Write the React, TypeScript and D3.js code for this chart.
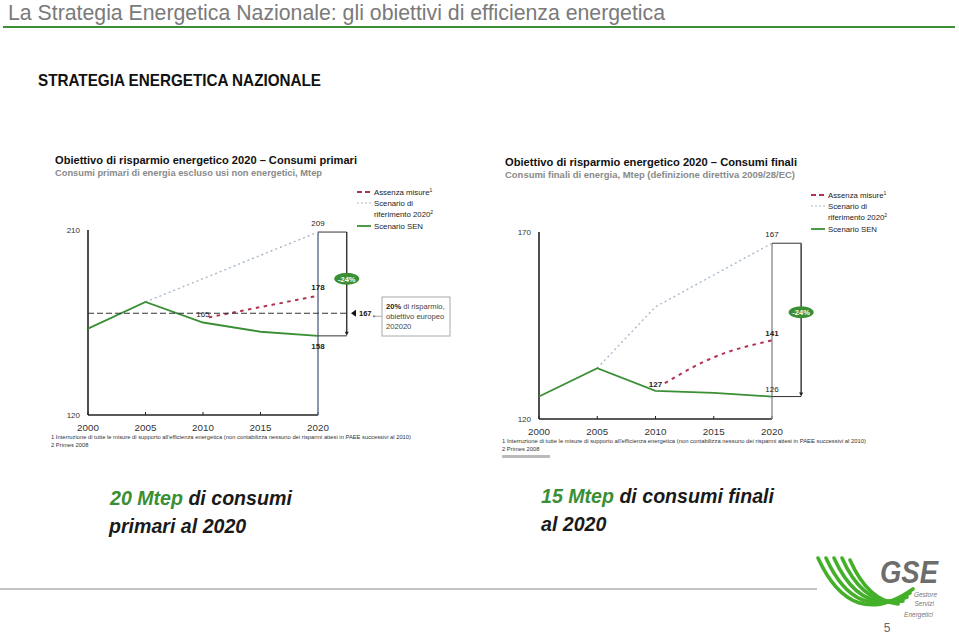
import React from "react";
import * as d3 from "d3";

// ---------- DATA ----------
const years = [2000, 2005, 2010, 2015, 2020];
const xTickLabels = ["2000", "2005", "2010", "2015", "2020"];

// Primary consumption (Mtep)
const primarySEN = [162, 175, 165, 160.5, 158.5];
const primaryRefYears = [2005, 2020];
const primaryRef = [175, 209];
const primaryNoMeasYears = [2010.5, 2015, 2020];
const primaryNoMeas = [167.5, 172.5, 178];
const primaryTargetLevel = 169.5; // drawn position of the 167 target line
const primaryYDomain = [120, 210];

// Final consumption (Mtep)
const finalSEN = [126, 133.6, 127.5, 127, 126];
const finalRefYears = [2005, 2010, 2015, 2020];
const finalRef = [133.6, 150, 158.5, 167];
const finalNoMeasYears = [2010.8, 2015, 2020];
const finalNoMeas = [129.6, 136.5, 141];
const finalYDomain = [120, 170];

const legendLabels = ["Assenza misure", "Scenario di", "riferimento 2020", "Scenario SEN"];
const footnote1 =
  "1 Interruzione di tutte le misure di supporto all'efficienza energetica (non contabilizza nessuno dei risparmi attesi in PAEE successivi al 2010)";
const footnote2 = "2 Primes 2008";

const GREEN = "#3a8f34";
const RED = "#b2334f";
const GREY_DOT = "#a9b9cc";
const FONT = "'Liberation Sans', Arial, sans-serif";

type PanelProps = {
  x0: number; x1: number; yTop: number; yBot: number;
  yDomain: number[];
  sen: number[]; refYears: number[]; ref: number[];
  nmYears: number[]; nm: number[];
  title: string; subtitle: string; titleX: number; titleY: number;
  titleW: number; subW: number;
  legX: number; legY: number;
  bracketColor: string;
  labels: { text: string; year: number; value: number; dx: number; dy: number; bold: boolean }[];
  footY: number; footW: number;
  extraFoot?: boolean;
};

function Panel(p: PanelProps) {
  const x = d3.scaleLinear().domain([2000, 2020]).range([p.x0, p.x1]);
  const y = d3.scaleLinear().domain(p.yDomain).range([p.yBot, p.yTop]);
  const line = d3.line<[number, number]>().x((d) => x(d[0])).y((d) => y(d[1]));
  const curve = d3
    .line<[number, number]>()
    .x((d) => x(d[0]))
    .y((d) => y(d[1]))
    .curve(d3.curveMonotoneX);
  const senPts = years.map((yr, i) => [yr, p.sen[i]] as [number, number]);
  const refPts = p.refYears.map((yr, i) => [yr, p.ref[i]] as [number, number]);
  const nmPts = p.nmYears.map((yr, i) => [yr, p.nm[i]] as [number, number]);
  const topVal = p.ref[p.ref.length - 1];
  const botVal = p.sen[p.sen.length - 1];
  const bx = x(2020);
  const bx2 = bx + (x(2005) - x(2000)) / 2;
  const yt = y(topVal);
  const yb = y(botVal);
  const ovalY = y((topVal + botVal) / 2 + (topVal - botVal) * 0.05);
  return (
    <g fontFamily={FONT}>
      <text x={p.titleX} y={p.titleY} fontSize={10.8} fontWeight="bold" fill="#111" textLength={p.titleW} lengthAdjust="spacingAndGlyphs">{p.title}</text>
      <text x={p.titleX} y={p.titleY + 12} fontSize={9.2} fontWeight="bold" fill="#8a8a8a" textLength={p.subW} lengthAdjust="spacingAndGlyphs">{p.subtitle}</text>
      {/* legend */}
      <g fontSize={7.8} fill="#222">
        <line x1={p.legX} x2={p.legX + 14} y1={p.legY} y2={p.legY} stroke={RED} strokeWidth={1.8} strokeDasharray="5,3" />
        <text x={p.legX + 17} y={p.legY + 2.5}>{legendLabels[0]}<tspan dy={-3} fontSize={5}>1</tspan></text>
        <line x1={p.legX} x2={p.legX + 14} y1={p.legY + 11} y2={p.legY + 11} stroke={GREY_DOT} strokeWidth={1.2} strokeDasharray="2,2" />
        <text x={p.legX + 17} y={p.legY + 13.5}>{legendLabels[1]}</text>
        <text x={p.legX + 17} y={p.legY + 24.5}>{legendLabels[2]}<tspan dy={-3} fontSize={5}>2</tspan></text>
        <line x1={p.legX} x2={p.legX + 14} y1={p.legY + 34} y2={p.legY + 34} stroke={GREEN} strokeWidth={1.8} />
        <text x={p.legX + 17} y={p.legY + 36.5}>{legendLabels[3]}</text>
      </g>
      {/* axes */}
      <line x1={p.x0} x2={p.x0} y1={p.yTop} y2={p.yBot} stroke="#222" strokeWidth={1.6} />
      <line x1={p.x0} x2={p.x1} y1={p.yBot} y2={p.yBot} stroke="#222" strokeWidth={1.4} />
      {years.map((yr) => (
        <line key={yr} x1={x(yr)} x2={x(yr)} y1={p.yBot} y2={p.yBot - 3} stroke="#222" strokeWidth={1} />
      ))}
      <text x={p.x0 - 8} y={y(p.yDomain[1]) + 3} fontSize={8} fill="#333" textAnchor="end">{String(p.yDomain[1])}</text>
      <text x={p.x0 - 8} y={p.yBot + 3} fontSize={8} fill="#333" textAnchor="end">{String(p.yDomain[0])}</text>
      {years.map((yr, i) => (
        <text key={yr} x={x(yr)} y={p.yBot + 16} fontSize={9.8} fill="#333" textAnchor="middle">{xTickLabels[i]}</text>
      ))}
      {/* bracket */}
      <line x1={bx} x2={bx} y1={yt} y2={p.yBot} stroke={p.bracketColor} strokeWidth={1.4} />
      <line x1={bx} x2={bx2} y1={yt} y2={yt} stroke="#333" strokeWidth={1} />
      <line x1={bx} x2={bx2} y1={yb} y2={yb} stroke="#333" strokeWidth={1} />
      <line x1={bx2} x2={bx2} y1={yt} y2={yb - 3} stroke="#222" strokeWidth={1.3} />
      <path d={`M${bx2 - 2},${yb - 4} L${bx2 + 2},${yb - 4} L${bx2},${yb} Z`} fill="#222" />
      <ellipse cx={bx2} cy={ovalY} rx={12.5} ry={6} fill={GREEN} />
      <text x={bx2} y={ovalY + 2.8} fontSize={7.5} fontWeight="bold" fill="#fff" textAnchor="middle">-24%</text>
      {/* series */}
      <path d={line(refPts) || ""} fill="none" stroke={GREY_DOT} strokeWidth={1.4} strokeDasharray="2,3" />
      <path d={curve(nmPts) || ""} fill="none" stroke={RED} strokeWidth={2} strokeDasharray="3.5,4.5" />
      <path d={line(senPts) || ""} fill="none" stroke={GREEN} strokeWidth={1.8} />
      {p.labels.map((l, i) => (
        <text key={i} x={x(l.year) + l.dx} y={y(l.value) + l.dy} fontSize={8} fontWeight={l.bold ? "bold" : "normal"} fill="#222" textAnchor="middle">{l.text}</text>
      ))}
      <text x={p.x0 - 37} y={p.footY} fontSize={5.8} fill="#333" textLength={p.footW} lengthAdjust="spacingAndGlyphs">{footnote1}</text>
      <text x={p.x0 - 37} y={p.footY + 8} fontSize={5.8} fill="#333">{footnote2}</text>
      {p.extraFoot && (
        <rect x={p.x0 - 37} y={p.footY + 12} width={48} height={3} fill="#bbb" />
      )}
    </g>
  );
}

export default function App() {
  const yP = d3.scaleLinear().domain(primaryYDomain).range([415, 230]);
  const tY = yP(primaryTargetLevel);
  return (
    <svg width={959} height={636} style={{ display: "block", position: "absolute", left: 0, top: 0 }}>
      <rect width={959} height={636} fill="#fff" />
      <text x={8} y={20} fontFamily={FONT} fontSize={21.5} fill="#7a7a7a" textLength={657} lengthAdjust="spacingAndGlyphs">
        La Strategia Energetica Nazionale: gli obiettivi di efficienza energetica
      </text>
      <line x1={3} x2={955} y1={27} y2={27} stroke={GREEN} strokeWidth={2} />
      <text x={38} y={86} fontFamily={FONT} fontSize={16.5} fontWeight="bold" fill="#111" textLength={283} lengthAdjust="spacingAndGlyphs">
        STRATEGIA ENERGETICA NAZIONALE
      </text>

      <Panel
        x0={88} x1={318} yTop={230} yBot={415} yDomain={primaryYDomain}
        sen={primarySEN} refYears={primaryRefYears} ref={primaryRef}
        nmYears={primaryNoMeasYears} nm={primaryNoMeas}
        title="Obiettivo di risparmio energetico 2020 – Consumi primari"
        subtitle="Consumi primari di energia escluso usi non energetici, Mtep"
        titleX={55} titleY={164} titleW={302} subW={267}
        legX={357} legY={192} bracketColor="#5b6b8c"
        labels={[
          { text: "209", year: 2020, value: 209, dx: 0, dy: -6, bold: false },
          { text: "178", year: 2020, value: 178, dx: 0, dy: -6, bold: true },
          { text: "158", year: 2020, value: 158.5, dx: 0, dy: 13, bold: true },
          { text: "165", year: 2010, value: 167.5, dx: 0, dy: 0, bold: false },
        ]}
        footY={439} footW={360}
      />
      {/* target line 167 */}
      <line x1={88} x2={347} y1={tY} y2={tY} stroke="#333" strokeWidth={1} strokeDasharray="6,3" />
      <path d={`M351,${tY} L356,${tY - 3.5} L356,${tY + 3.5} Z`} fill="#111" />
      <text x={359} y={tY + 3} fontFamily={FONT} fontSize={7.5} fontWeight="bold" fill="#111">167</text>
      <line x1={373} x2={382} y1={tY + 3} y2={tY + 3} stroke="#aaa" strokeWidth={1} />
      <circle cx={374} cy={tY + 3} r={1.2} fill="#999" />
      <rect x={382} y={297} width={68} height={39} fill="#fff" stroke="#aaa" strokeWidth={1} />
      <g fontFamily={FONT} fontSize={7.6} fill="#444">
        <text x={386} y={309}><tspan fontWeight="bold" fill="#222">20%</tspan> di risparmio,</text>
        <text x={386} y={319}>obiettivo europeo</text>
        <text x={386} y={329}>202020</text>
      </g>

      <Panel
        x0={539} x1={772} yTop={232} yBot={419} yDomain={finalYDomain}
        sen={finalSEN} refYears={finalRefYears} ref={finalRef}
        nmYears={finalNoMeasYears} nm={finalNoMeas}
        title="Obiettivo di risparmio energetico 2020 – Consumi finali"
        subtitle="Consumi finali di energia, Mtep (definizione direttiva 2009/28/EC)"
        titleX={505} titleY={166} titleW={292} subW={290}
        legX={811} legY={195} bracketColor="#8a8f99"
        labels={[
          { text: "167", year: 2020, value: 167, dx: 0, dy: -6, bold: false },
          { text: "141", year: 2020, value: 141, dx: 0, dy: -4, bold: true },
          { text: "126", year: 2020, value: 126, dx: 0, dy: -5, bold: false },
          { text: "127", year: 2010, value: 127.5, dx: 0, dy: -4, bold: true },
        ]}
        footY={443} footW={364}
        extraFoot
      />

      {/* bottom texts */}
      <g fontFamily={FONT} fontStyle="italic" fontWeight="bold" fontSize={19.6} fill="#1a1a1a">
        <text x={110} y={505}><tspan fill={GREEN}>20 Mtep</tspan> di consumi</text>
        <text x={109} y={533}>primari al 2020</text>
        <text x={541} y={503}><tspan fill={GREEN}>15 Mtep</tspan> di consumi finali</text>
        <text x={541} y={531}>al 2020</text>
      </g>

      {/* footer */}
      <line x1={0} x2={817} y1={589} y2={589} stroke="#888" strokeWidth={1} />
      <g fill="none" stroke="#44b02a" strokeLinecap="round" strokeWidth={3.6}>
        <path d="M818,558 Q852,632 913,589" />
        <path d="M826,558 Q856,624 910,593" />
        <path d="M834,558 Q860,616 907,597" />
        <path d="M842,558 Q864,608 903,601" />
        <path d="M850,560 Q868,601 898,604" />
      </g>
      <text x={880} y={583} fontFamily={FONT} fontSize={31} fontWeight="bold" fontStyle="italic" fill="#6d6d6d" textLength={58} lengthAdjust="spacingAndGlyphs">GSE</text>
      <g fontFamily={FONT} fontSize={6.5} fontStyle="italic" fill="#777" textAnchor="end">
        <text x={937} y={597}>Gestore</text>
        <text x={934} y={606}>Servizi</text>
        <text x={933} y={617}>Energetici</text>
      </g>
      <text x={887} y={632} fontFamily={FONT} fontSize={12} fill="#666" textAnchor="middle">5</text>
    </svg>
  );
}
